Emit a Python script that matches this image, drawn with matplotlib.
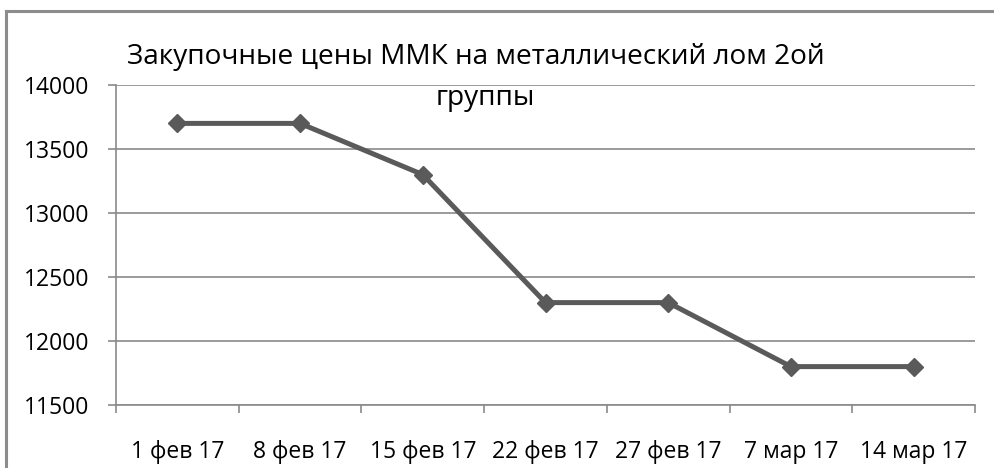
import matplotlib
matplotlib.use("Agg")
import matplotlib.pyplot as plt
from matplotlib.lines import Line2D

categories = ["1 фев 17", "8 фев 17", "15 фев 17", "22 фев 17", "27 фев 17", "7 мар 17", "14 мар 17"]
prices = [13700, 13700, 13300, 12300, 12300, 11800, 11800]
yticks = [11500, 12000, 12500, 13000, 13500, 14000]
title_line1 = "Закупочные цены ММК на металлический лом 2ой"
title_line2 = "группы"

FONT = "Open Sans"
W, H, DPI = 995, 468, 100
fig = plt.figure(figsize=(W / DPI, H / DPI), dpi=DPI)

def fx(px):
    return px / W

def fy(py):
    return 1 - py / H

left, right, top, bottom = 116, 975, 85, 405
ax = fig.add_axes([fx(left), fy(bottom), fx(right - left), (bottom - top) / H])

x = list(range(len(categories)))
ax.plot(x, prices, color="#5a5a5a", lw=3.6, marker="D", markersize=9.5,
        markerfacecolor="#5a5a5a", markeredgecolor="#5a5a5a", zorder=3, clip_on=False)
ax.set_xlim(-0.5, len(categories) - 0.5)
ax.set_ylim(11500, 14000)
ax.set_yticks(yticks)
ax.set_yticklabels([str(v) for v in yticks])
ax.yaxis.grid(True, color="#8a8a8a", lw=1.2)
ax.set_axisbelow(True)

ax.set_xticks([i + 0.5 for i in range(-1, len(categories))], minor=False)
ax.set_xticklabels([""] * (len(categories) + 1))
ax.set_xticks(x, minor=True)
ax.set_xticklabels(categories, minor=True)
ax.tick_params(axis="x", which="major", length=6, width=1.2, color="#8a8a8a", direction="out")
ax.tick_params(axis="x", which="minor", length=0, pad=25, labelsize=16.5)
ax.tick_params(axis="y", length=6, width=1.2, color="#8a8a8a", pad=13, labelsize=16.5)

for s in ["top", "right"]:
    ax.spines[s].set_visible(False)
for s in ["left", "bottom"]:
    ax.spines[s].set_color("#8a8a8a")
    ax.spines[s].set_linewidth(1.2)

for lab in ax.get_xticklabels(minor=True) + ax.get_yticklabels():
    lab.set_fontfamily(FONT)
    lab.set_color("#000000")

fig.text(fx(476), fy(64), title_line1, fontsize=20.2, family=FONT, ha="center", va="baseline")
fig.text(fx(485), fy(105), title_line2, fontsize=20.2, family=FONT, ha="center", va="baseline")

# outer chart border (left and top visible)
fig.add_artist(Line2D([fx(6.5), fx(6.5)], [0, fy(10.5)], color="#8c8c8c", lw=2.2, transform=fig.transFigure))
fig.add_artist(Line2D([fx(6.5), 1], [fy(10.5), fy(10.5)], color="#8c8c8c", lw=2.2, transform=fig.transFigure))

fig.savefig("out.png", dpi=DPI)
